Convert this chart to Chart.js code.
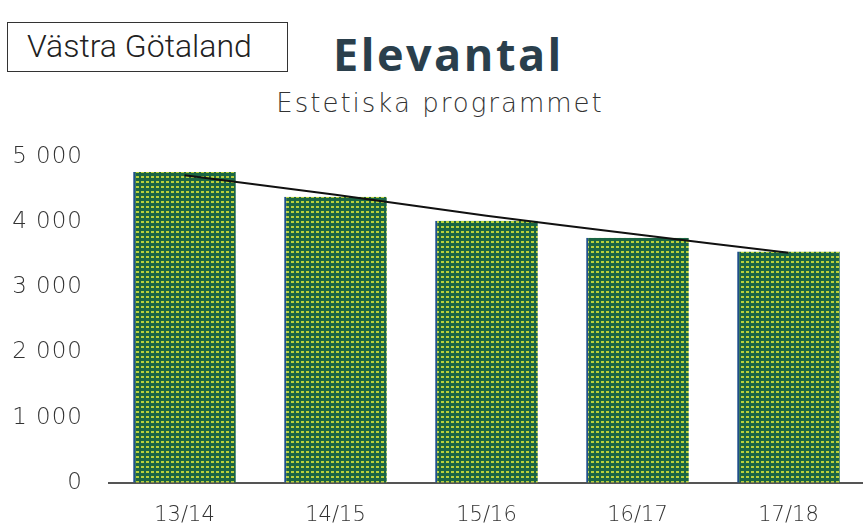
<!DOCTYPE html>
<html>
<head>
<meta charset="utf-8">
<script src="https://cdn.jsdelivr.net/npm/chart.js@4"></script>
<style>
  body { margin: 0; background: #fff; width: 863px; height: 530px; overflow: hidden; position: relative; }
  #region { position: absolute; left: 7px; top: 22px; width: 281px; height: 50px; border: 1.5px solid #333;
    font: 300 32px Roboto, sans-serif; color: #222; line-height: 46px; padding-left: 19px; box-sizing: border-box; }
  #title { position: absolute; left: 333px; top: 23px; font: bold 45px "Open Sans", sans-serif; color: #2a3f4c; letter-spacing: 2.5px; }
  #subtitle { position: absolute; left: 0; width: 880px; top: 88px; text-align: center; font: 200 26px "DejaVu Sans", sans-serif; color: #333; letter-spacing: 2px; }
  #wrap { position: absolute; left: 0; top: 0; width: 870px; height: 548px; }
</style>
</head>
<body>
<div id="region">Västra Götaland</div>
<div id="title">Elevantal</div>
<div id="subtitle">Estetiska programmet</div>
<div id="wrap"><canvas id="chart"></canvas></div>
<script>
// Elevantal per läsår
const years = ["13/14", "14/15", "15/16", "16/17", "17/18"];
const students = [4770, 4390, 4020, 3760, 3550];
const trend = [4720, 4420, 4100, 3810, 3530];
const yTicks = [0, 1000, 2000, 3000, 4000, 5000];

// green bar fill with a yellow dot raster, like the printed chart
function makePattern() {
  const c = document.createElement("canvas");
  c.width = 5;
  c.height = 5;
  const g = c.getContext("2d");
  g.fillStyle = "#1b6544";
  g.fillRect(0, 0, 5, 5);
  g.fillStyle = "#b9cf3a";
  g.fillRect(1, 1, 3, 2);
  return g.createPattern(c, "repeat");
}

const xFont = { family: "'DejaVu Sans', sans-serif", size: 21, weight: 200 };
const yFont = { family: "'DejaVu Sans', sans-serif", size: 23, weight: 200 };

// wider spacing only for the y axis numbers
const spacing = {
  id: "spacing",
  beforeDraw: (chart) => {
    const ys = chart.scales.y;
    if (ys._spaced) return;
    const orig = ys.drawLabels.bind(ys);
    ys.drawLabels = (area) => {
      chart.ctx.save();
      chart.ctx.letterSpacing = "1px";
      orig(area);
      chart.ctx.restore();
    };
    ys._spaced = true;
  },
};

new Chart(document.getElementById("chart"), {
  data: {
    labels: years,
    datasets: [
      {
        type: "line",
        data: trend,
        borderColor: "#111",
        borderWidth: 2,
        pointRadius: 0,
        tension: 0.2,
        order: 0,
      },
      {
        type: "bar",
        data: students,
        backgroundColor: makePattern(),
        borderColor: "#1f4f8a",
        borderWidth: { left: 2, right: 0, top: 0, bottom: 0 },
        categoryPercentage: 1,
        barPercentage: 0.68,
        order: 1,
      },
    ],
  },
  options: {
    responsive: true,
    maintainAspectRatio: false,
    animation: false,
    layout: { padding: { top: 157, right: 6, bottom: 0, left: 0 } },
    plugins: { legend: { display: false }, tooltip: { enabled: false } },
    scales: {
      x: {
        grid: { display: false, drawTicks: false },
        border: { color: "#555", width: 2 },
        ticks: { font: xFont, color: "#333", padding: 20 },
      },
      y: {
        min: 0,
        max: 5000,
        afterFit: (s) => { s.width = 109; },
        afterBuildTicks: (s) => { s.ticks = yTicks.map((v) => ({ value: v })); },
        grid: { display: false, drawTicks: false },
        border: { display: false },
        ticks: {
          font: yFont,
          color: "#333",
          padding: 26,
          callback: (v) => (v >= 1000 ? String(v).replace(/(\d)(\d{3})$/, "$1 $2") : v),
        },
      },
    },
  },
  plugins: [spacing],
});
</script>
</body>
</html>
